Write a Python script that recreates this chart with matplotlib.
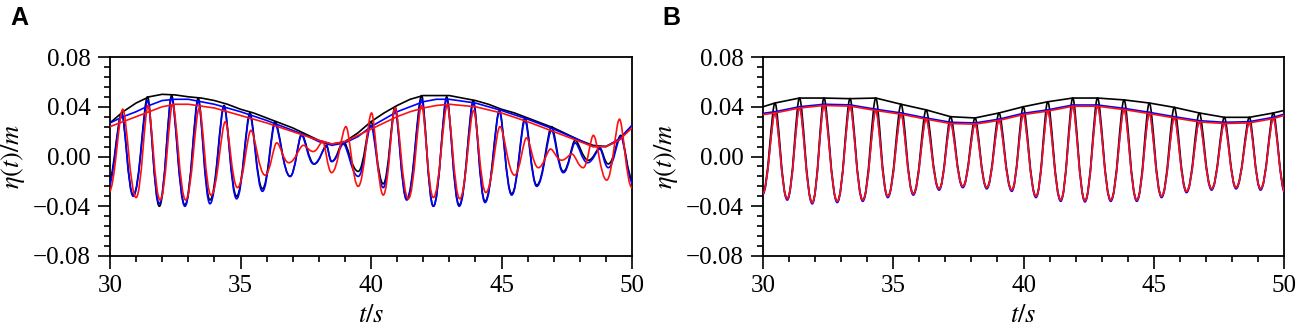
import numpy as np
import matplotlib
matplotlib.use('Agg')
import matplotlib.pyplot as plt
from matplotlib.path import Path
from matplotlib.patches import PathPatch
from matplotlib.ticker import MultipleLocator, FixedLocator, FuncFormatter

# ---------------- data ----------------
# Panel A : extrema (time of crest/trough, elevation in m)
a_black_t = [29.88, 30.45, 30.89, 31.44, 31.89, 32.36, 32.87, 33.38, 33.83, 34.37, 34.85, 35.36, 35.84,
             36.32, 36.90, 37.34, 37.83, 38.30, 38.49, 38.94, 39.51, 40.00, 40.47, 40.92, 41.37, 41.94,
             42.39, 42.90, 43.38, 43.92, 44.37, 44.92, 45.39, 45.90, 46.35, 46.92, 47.37, 47.82, 48.33,
             48.77, 49.09, 49.57, 50.05]
a_black_v = [-0.025, 0.035, -0.031, 0.048, -0.040, 0.049, -0.039, 0.047, -0.035, 0.041, -0.032, 0.035, -0.026,
             0.028, -0.016, 0.018, -0.006, 0.009, -0.004, 0.012, -0.012, 0.028, -0.022, 0.040, -0.034, 0.049,
             -0.040, 0.048, -0.039, 0.045, -0.036, 0.037, -0.030, 0.031, -0.023, 0.024, -0.012, 0.013, -0.003,
             0.007, -0.006, 0.017, -0.020]
a_blue_t = [29.88, 30.45, 30.89, 31.44, 31.89, 32.36, 32.87, 33.38, 33.83, 34.37, 34.85, 35.36, 35.84,
            36.32, 36.90, 37.34, 37.80, 38.30, 38.50, 38.94, 39.51, 40.00, 40.47, 40.92, 41.37, 41.94,
            42.39, 42.90, 43.38, 43.92, 44.37, 44.92, 45.39, 45.90, 46.35, 46.92, 47.37, 47.82, 48.30,
            48.77, 49.09, 49.57, 50.05]
a_blue_v = [-0.028, 0.034, -0.032, 0.045, -0.038, 0.047, -0.040, 0.045, -0.038, 0.040, -0.034, 0.033, -0.028,
            0.026, -0.016, 0.017, -0.006, 0.008, -0.004, 0.010, -0.016, 0.025, -0.025, 0.038, -0.035, 0.046,
            -0.040, 0.046, -0.040, 0.043, -0.037, 0.036, -0.031, 0.029, -0.024, 0.021, -0.013, 0.011, -0.005,
            0.006, -0.009, 0.016, -0.022]
a_red_t = [29.95, 30.49, 31.00, 31.46, 31.92, 32.40, 32.90, 33.42, 33.87, 34.42, 34.88, 35.40, 35.94,
           36.39, 36.85, 37.41, 37.79, 38.15, 38.49, 39.04, 39.51, 40.02, 40.47, 40.92, 41.43, 41.94,
           42.39, 42.92, 43.40, 43.93, 44.40, 44.94, 45.50, 45.96, 46.41, 46.88, 47.30, 47.70, 48.13,
           48.52, 49.03, 49.52, 50.00]
a_red_v = [-0.029, 0.038, -0.033, 0.041, -0.035, 0.042, -0.035, 0.039, -0.031, 0.028, -0.025, 0.021, -0.015,
           0.011, -0.005, 0.009, 0.004, 0.012, -0.013, 0.024, -0.024, 0.035, -0.031, 0.039, -0.034, 0.041,
           -0.033, 0.041, -0.034, 0.037, -0.029, 0.024, -0.015, 0.015, -0.009, 0.006, -0.003, 0.002, -0.009,
           0.017, -0.019, 0.030, -0.025]

# Panel A : envelopes
a_env_t = [30, 30.5, 31, 31.5, 32, 32.5, 33, 33.5, 34, 34.5, 35, 35.5, 36, 36.5, 37, 37.5, 38, 38.5,
           39, 39.5, 40, 40.5, 41, 41.5, 42, 42.5, 43, 43.5, 44, 44.5, 45, 45.5, 46, 46.5, 47, 47.5,
           48, 48.5, 49, 49.5, 50]
a_env_black = [0.027, 0.036, 0.043, 0.048, 0.050, 0.0495, 0.048, 0.047, 0.045, 0.042, 0.038, 0.035, 0.031,
               0.027, 0.023, 0.018, 0.013, 0.010, 0.012, 0.019, 0.028, 0.035, 0.041, 0.046, 0.049, 0.049,
               0.049, 0.047, 0.045, 0.042, 0.038, 0.035, 0.031, 0.027, 0.023, 0.018, 0.013, 0.009, 0.008,
               0.013, 0.025]
a_env_blue = [0.027, 0.032, 0.036, 0.041, 0.045, 0.046, 0.046, 0.044, 0.042, 0.039, 0.036, 0.0325, 0.029,
              0.025, 0.021, 0.017, 0.012, 0.009, 0.011, 0.016, 0.024, 0.030, 0.036, 0.040, 0.044, 0.046,
              0.046, 0.0445, 0.043, 0.040, 0.037, 0.0335, 0.030, 0.026, 0.022, 0.0175, 0.013, 0.008, 0.008,
              0.014, 0.025]
a_env_red = [0.024, 0.028, 0.032, 0.036, 0.040, 0.042, 0.042, 0.0405, 0.039, 0.036, 0.033, 0.030, 0.027,
             0.0235, 0.020, 0.0165, 0.013, 0.010, 0.012, 0.017, 0.022, 0.027, 0.032, 0.036, 0.039, 0.041,
             0.042, 0.041, 0.040, 0.0375, 0.035, 0.0315, 0.028, 0.024, 0.020, 0.016, 0.012, 0.008, 0.008,
             0.013, 0.023]

# Panel B : extrema (same timing for the three series)
b_t = [29.98, 30.46, 30.93, 31.40, 31.89, 32.34, 32.85, 33.34, 33.83, 34.33, 34.79, 35.30, 35.77, 36.26,
       36.76, 37.20, 37.67, 38.14, 38.59, 39.06, 39.55, 39.99, 40.48, 40.93, 41.43, 41.89, 42.36, 42.84,
       43.35, 43.86, 44.35, 44.83, 45.30, 45.79, 46.26, 46.75, 47.22, 47.71, 48.16, 48.67, 49.10, 49.59,
       50.05]
b_black_v = [-0.030, 0.043, -0.034, 0.047, -0.037, 0.047, -0.036, 0.0465, -0.035, 0.047, -0.032, 0.042,
             -0.030, 0.0375, -0.026, 0.032, -0.024, 0.031, -0.025, 0.035, -0.027, 0.040, -0.032, 0.044,
             -0.035, 0.047, -0.0355, 0.047, -0.035, 0.0455, -0.035, 0.043, -0.032, 0.0395, -0.028, 0.035,
             -0.026, 0.0315, -0.025, 0.0315, -0.026, 0.035, -0.029]
b_blue_v = [-0.031, 0.036, -0.035, 0.040, -0.038, 0.042, -0.037, 0.0415, -0.036, 0.038, -0.033, 0.035,
            -0.031, 0.031, -0.027, 0.0275, -0.025, 0.027, -0.026, 0.030, -0.028, 0.0347, -0.033, 0.0375,
            -0.036, 0.0414, -0.0365, 0.0414, -0.036, 0.0387, -0.036, 0.0355, -0.033, 0.032, -0.029, 0.0288,
            -0.027, 0.0275, -0.026, 0.028, -0.027, 0.0315, -0.030]
b_red_v = [-0.030, 0.035, -0.034, 0.039, -0.037, 0.041, -0.036, 0.0405, -0.035, 0.037, -0.032, 0.034,
           -0.030, 0.030, -0.026, 0.0265, -0.024, 0.026, -0.025, 0.029, -0.027, 0.0337, -0.032, 0.0365,
           -0.035, 0.0404, -0.0355, 0.0404, -0.035, 0.0377, -0.035, 0.0345, -0.032, 0.031, -0.028, 0.0278,
           -0.026, 0.0265, -0.025, 0.027, -0.026, 0.0305, -0.029]

# Panel B : envelopes
b_env_t = [30.0, 30.46, 31.40, 32.34, 33.34, 34.33, 35.30, 36.26, 37.20, 38.14, 39.06, 39.99, 40.93,
           41.89, 42.84, 43.86, 44.83, 45.79, 46.75, 47.71, 48.67, 49.59, 50.0]
b_env_black = [0.040, 0.043, 0.047, 0.047, 0.0465, 0.047, 0.042, 0.0375, 0.032, 0.031, 0.035, 0.040, 0.044,
               0.047, 0.047, 0.0455, 0.043, 0.0395, 0.035, 0.0315, 0.0315, 0.035, 0.037]
b_env_blue = [0.0347, 0.036, 0.040, 0.042, 0.0415, 0.038, 0.035, 0.031, 0.0275, 0.027, 0.030, 0.0347,
              0.0375, 0.0414, 0.0414, 0.0387, 0.0355, 0.032, 0.0288, 0.0275, 0.028, 0.0315, 0.034]
b_env_red = [0.0337, 0.035, 0.039, 0.041, 0.0405, 0.037, 0.034, 0.030, 0.0265, 0.026, 0.029, 0.0337,
             0.0365, 0.0404, 0.0404, 0.0377, 0.0345, 0.031, 0.0278, 0.0265, 0.027, 0.0305, 0.033]

y_ticks = [-0.08, -0.04, 0.00, 0.04, 0.08]
x_ticks = [30, 35, 40, 45, 50]
panel_labels = ['A', 'B']

# ---------------- drawing ----------------
BLACK, BLUE, RED = '#000000', '#0000ff', '#ff1010'
plt.rcParams['mathtext.fontset'] = 'stix'
SERIF = 'Liberation Serif'


def wave(ax, t, v, color, lw, z):
    """Smooth curve through the crest/trough points (cubic Bezier segments);
    crests drawn slightly sharper than troughs."""
    verts = [(t[0], v[0])]
    codes = [Path.MOVETO]
    for i in range(len(t) - 1):
        dt = t[i + 1] - t[i]
        d0 = (0.28 if v[i] > v[i + 1] else 0.44) * dt
        d1 = (0.28 if v[i + 1] > v[i] else 0.44) * dt
        verts += [(t[i] + d0, v[i]), (t[i + 1] - d1, v[i + 1]), (t[i + 1], v[i + 1])]
        codes += [Path.CURVE4] * 3
    ax.add_patch(PathPatch(Path(verts, codes), facecolor='none', edgecolor=color,
                           lw=lw, zorder=z, transform=ax.transData))


fig = plt.figure(figsize=(12.99, 3.26), dpi=100)
axA = fig.add_axes([110 / 1299, 70 / 326, 522 / 1299, 199 / 326])
axB = fig.add_axes([763 / 1299, 70 / 326, 521 / 1299, 199 / 326])

lw = 1.2
wave(axA, a_black_t, a_black_v, BLACK, lw, 3)
wave(axA, a_blue_t, a_blue_v, BLUE, lw, 4)
wave(axA, a_red_t, a_red_v, RED, lw, 5)
axA.plot(a_env_t, a_env_black, color=BLACK, lw=lw, zorder=3)
axA.plot(a_env_t, a_env_blue, color=BLUE, lw=lw, zorder=4)
axA.plot(a_env_t, a_env_red, color=RED, lw=lw, zorder=5)

wave(axB, b_t, b_black_v, BLACK, lw, 3)
wave(axB, b_t, b_blue_v, BLUE, lw, 4)
wave(axB, b_t, b_red_v, RED, lw, 5)
axB.plot(b_env_t, b_env_black, color=BLACK, lw=lw, zorder=3)
axB.plot(b_env_t, b_env_blue, color=BLUE, lw=lw, zorder=4)
axB.plot(b_env_t, b_env_red, color=RED, lw=lw, zorder=5)


def fmt(v, pos):
    s = f'{abs(v):.2f}'
    return ('\u2212' + s) if v < -1e-9 else s


for ax, lab in zip([axA, axB], panel_labels):
    ax.set_xlim(30, 50)
    ax.set_ylim(-0.08, 0.08)
    ax.xaxis.set_major_locator(FixedLocator(x_ticks))
    ax.xaxis.set_minor_locator(MultipleLocator(1))
    ax.yaxis.set_major_locator(FixedLocator(y_ticks))
    ax.yaxis.set_minor_locator(MultipleLocator(0.008))
    ax.yaxis.set_major_formatter(FuncFormatter(fmt))
    ax.tick_params(which='major', direction='out', length=9, width=1.2, labelsize=18, pad=5)
    ax.tick_params(which='minor', direction='out', length=4.5, width=1.2)
    ax.tick_params(axis='x', which='major', pad=5)
    for lbl in ax.get_xticklabels() + ax.get_yticklabels():
        lbl.set_family(SERIF)
    for sp in ax.spines.values():
        sp.set_linewidth(1.3)
    ax.set_xlabel(r'$t/s$', fontsize=19, labelpad=3)
    ax.set_ylabel(r'$\eta(t)/m$', fontsize=19, labelpad=4)

fig.text(10 / 1299, 1 - 6 / 326, panel_labels[0], family='Liberation Sans', fontweight='bold',
         fontsize=18, va='top', ha='left')
fig.text(662 / 1299, 1 - 6 / 326, panel_labels[1], family='Liberation Sans', fontweight='bold',
         fontsize=18, va='top', ha='left')

fig.savefig('out.png', dpi=100)
